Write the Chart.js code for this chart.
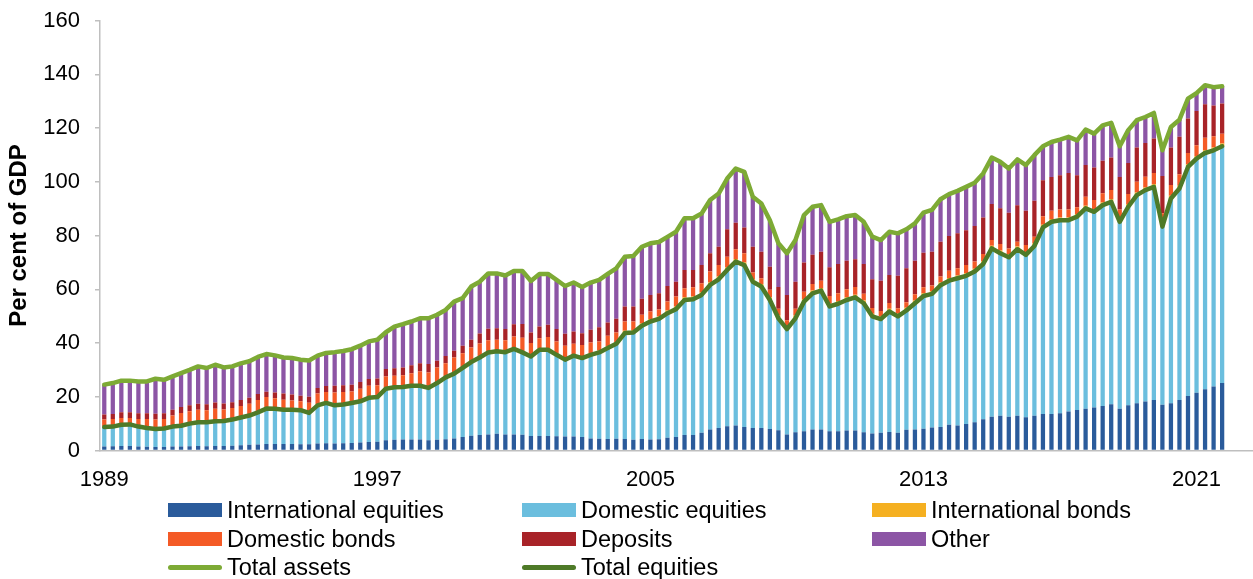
<!DOCTYPE html>
<html><head><meta charset="utf-8">
<script src="https://cdn.jsdelivr.net/npm/chart.js@4.4.1/dist/chart.umd.min.js"></script>
<style>
html,body{margin:0;padding:0;background:#fff;}
#wrap{position:relative;width:1253px;height:579px;overflow:hidden;background:#fff;}
#c{position:absolute;left:0;top:0;}
#legend{position:absolute;left:0;top:0;width:1253px;height:579px;pointer-events:none;font-family:"Liberation Sans",Arial,sans-serif;font-size:23.5px;color:#000;}
.item{position:absolute;display:flex;align-items:center;white-space:nowrap;height:28px;}
.sw{width:54px;height:14px;margin-right:5px;}
.ln{width:54px;height:5px;border-radius:3px;margin-right:5px;}
</style></head>
<body><div id="wrap"><canvas id="c" width="1253" height="579"></canvas><div id="legend"></div></div>
<script>
// Categories: quarters from 1989 Q1, with three empty quarters of axis after the last bar
const firstYear = 1989;
const quarterCount = 135;
const quarters = [];
for (let k = 0; k < quarterCount; k++) quarters.push((firstYear + Math.floor(k / 4)) + ' Q' + (k % 4 + 1));
const tickLabels = ['1989', '1997', '2005', '2013', '2021'];

// Series (per cent of GDP), 1989 Q1 - 2021 Q4
const intlEquities = [1.5,1.6,1.7,1.7,1.5,1.4,1.3,1.3,1.5,1.5,1.6,1.7,1.6,1.7,1.7,1.8,2.0,
2.1,2.2,2.4,2.4,2.4,2.4,2.3,2.3,2.6,2.7,2.6,2.7,2.8,3.0,3.2,3.3,
3.8,4.0,4.1,4.1,4.1,3.8,4.0,4.2,4.5,5.0,5.5,5.8,6.0,6.2,6.0,6.0,
5.9,5.4,5.4,5.4,5.3,5.2,5.2,5.0,4.5,4.4,4.3,4.4,4.3,4.0,4.3,4.1,4.2,
4.7,5.0,5.8,5.8,6.6,7.8,8.4,9.0,9.3,8.7,8.4,8.4,8.0,7.5,6.0,6.8,7.2,
7.8,7.8,7.2,7.2,7.4,7.4,6.8,6.3,6.6,6.9,6.6,7.7,7.8,8.1,8.6,8.7,
9.6,9.3,9.9,10.5,11.6,12.6,12.9,12.6,12.9,12.4,12.9,13.6,13.6,13.9,14.5,15.1,
15.5,16.0,16.6,17.2,15.5,16.8,17.6,18.2,18.8,17.0,17.6,18.8,20.3,21.5,22.8,23.8,25.1];

const domEquities = [7.2,7.3,7.9,8.0,7.4,7.0,6.7,6.9,7.4,7.7,8.4,8.8,8.9,9.2,9.3,9.7,10.3,
10.9,12.0,13.2,13.1,12.8,12.8,12.7,11.7,14.2,15.0,14.2,14.4,14.9,15.3,16.4,16.6,
19.2,19.5,19.5,20.0,20.0,19.5,21.1,23.0,24.1,25.7,27.4,28.8,30.5,30.7,30.6,31.8,
30.6,29.6,32.1,32.1,30.3,28.6,30.1,29.4,31.1,32.1,33.8,35.3,39.4,39.9,42.1,43.9,44.8,
46.4,47.6,50.2,50.5,51.3,53.8,55.3,58.2,61.0,60.3,54.4,52.6,48.0,41.7,39.2,42.4,48.2,
50.7,51.7,46.4,47.4,48.6,49.6,48.0,43.6,42.3,44.8,43.3,44.4,47.0,49.4,49.7,52.8,
53.6,54.8,55.1,56.1,57.8,62.6,60.5,59.3,62.0,60.4,63.2,69.4,71.5,71.8,71.2,71.9,
74.6,72.8,74.7,75.3,69.6,73.9,77.4,78.7,79.3,66.3,76.2,78.7,85.2,87.1,87.9,87.9,88.1];

const intlBonds = [0.2,0.2,0.2,0.2,0.2,0.2,0.2,0.2,0.2,0.2,0.2,0.2,0.2,0.2,0.2,0.2,0.2,
0.3,0.3,0.3,0.3,0.3,0.3,0.3,0.3,0.3,0.3,0.3,0.3,0.3,0.3,0.3,0.3,
0.4,0.4,0.4,0.4,0.4,0.4,0.4,0.4,0.4,0.4,0.4,0.4,0.4,0.4,0.4,0.4,
0.5,0.5,0.5,0.5,0.5,0.5,0.5,0.5,0.7,0.7,0.7,0.7,0.9,0.9,0.9,0.9,0.9,
1.0,1.0,1.0,1.0,1.0,1.0,1.0,1.0,1.0,1.0,1.0,1.0,1.0,1.0,1.0,1.0,1.0,
1.0,1.0,1.0,1.0,1.0,1.0,1.0,1.0,1.0,1.0,1.0,1.0,1.0,1.0,1.0,1.0,
1.0,1.0,1.0,1.0,1.0,1.0,1.0,1.0,1.0,1.0,1.0,1.0,1.0,1.0,1.0,1.0,
1.0,1.0,1.0,1.0,1.0,1.0,1.0,1.0,1.0,1.0,1.0,1.0,1.0,1.0,1.0,1.0,1.0];

const domBonds = [2.6,2.6,2.3,2.2,2.6,3.1,3.3,3.3,3.9,4.6,4.4,4.5,4.3,4.4,4.1,4.1,4.1,
4.1,4.3,4.0,3.6,3.4,3.1,3.0,3.5,4.1,3.8,4.5,4.4,4.0,4.4,4.2,4.1,
4.1,3.9,4.0,4.2,4.9,5.3,5.4,4.9,5.6,5.1,5.0,4.8,4.1,3.9,4.0,4.2,
5.0,4.5,3.8,4.2,4.5,4.7,3.9,4.4,3.9,3.4,3.9,3.5,3.4,3.2,3.2,2.8,2.6,
3.3,3.7,3.4,3.4,3.3,4.0,4.3,3.9,3.6,3.4,2.4,2.1,2.8,2.5,2.3,2.5,2.7,
2.5,2.7,2.9,2.9,3.0,2.8,2.5,2.1,2.0,2.2,2.0,2.1,2.3,2.2,2.1,2.2,
2.7,2.7,3.0,2.7,2.7,2.1,2.4,2.3,1.8,2.7,2.4,3.2,3.1,3.0,3.0,2.5,
3.3,3.4,3.4,3.4,3.6,3.7,4.0,4.0,4.2,4.0,4.0,4.3,4.2,4.0,4.7,4.2,3.7];

const deposits = [1.9,1.9,2.1,2.1,2.2,2.2,2.2,2.2,2.2,2.2,2.2,2.2,2.2,2.4,2.2,2.2,2.2,
2.2,2.2,2.0,2.2,2.3,2.2,2.1,2.2,2.1,2.2,2.5,2.5,2.5,2.5,2.5,2.5,
2.8,2.8,2.9,3.0,3.1,3.2,2.5,2.7,2.5,2.8,2.9,3.7,4.3,4.3,4.2,4.6,
5.1,3.9,4.3,4.6,4.6,4.4,4.6,4.3,4.7,5.3,4.9,5.1,5.6,5.6,6.0,6.2,6.0,
5.8,5.5,6.8,6.5,6.8,6.8,6.8,10.2,9.8,9.6,9.6,9.9,8.6,8.1,9.4,10.1,10.9,
10.8,10.8,10.7,10.9,10.6,10.4,11.1,10.7,11.3,10.4,12.1,12.6,12.5,12.9,12.6,13.0,
12.9,13.0,13.0,13.2,13.6,13.4,13.3,13.3,13.6,12.7,13.4,13.4,12.6,12.7,13.6,11.9,
11.8,12.1,12.1,12.1,12.1,11.6,12.7,12.5,12.8,13.8,13.9,13.9,12.8,12.7,12.4,11.5,11.2];

const other = [11.1,11.5,11.8,11.8,11.8,11.8,13.0,12.4,12.4,12.6,13.2,13.9,13.5,14.0,13.4,13.3,13.6,
13.6,13.8,14.0,13.8,13.4,13.6,13.4,13.5,12.0,12.3,12.5,12.7,13.2,13.5,14.0,14.4,
13.7,15.5,16.1,16.3,16.7,17.0,17.1,17.1,18.3,17.7,19.8,19.3,20.6,20.4,19.9,19.8,
19.7,19.2,19.6,18.9,18.3,17.8,18.2,17.2,17.6,17.6,18.1,18.8,18.5,18.8,19.3,19.2,19.1,
18.3,18.6,19.2,19.2,19.2,19.8,19.8,18.9,20.2,20.7,18.6,17.9,17.3,16.3,15.5,15.5,17.6,
17.9,17.3,16.9,16.6,16.6,16.4,15.7,15.9,15.1,16.1,15.8,14.5,13.9,14.9,15.5,15.8,
15.6,15.8,16.1,16.1,16.4,17.3,17.3,16.4,17.0,17.0,17.0,12.6,13.0,13.3,13.4,13.0,
13.2,12.6,13.2,12.9,11.4,12.2,10.2,9.7,9.5,9.6,7.7,6.4,7.4,6.7,7.1,6.8,6.4];

const totalAssets = [24.5,25.1,26.0,26.0,25.7,25.7,26.7,26.3,27.6,28.8,30.0,31.3,30.7,31.9,30.9,31.3,32.4,
33.2,34.8,35.9,35.4,34.6,34.4,33.8,33.5,35.3,36.3,36.6,37.0,37.7,39.0,40.6,41.2,
44.0,46.1,47.0,48.0,49.2,49.2,50.5,52.3,55.4,56.7,61.0,62.8,65.9,65.9,65.1,66.8,
66.8,63.1,65.7,65.7,63.5,61.2,62.5,60.8,62.5,63.5,65.7,67.8,72.1,72.4,75.8,77.1,77.6,
79.5,81.4,86.4,86.4,88.2,93.2,95.6,101.2,104.9,103.7,94.4,91.9,85.7,77.1,73.4,78.3,87.6,
90.7,91.3,85.1,86.0,87.2,87.6,85.1,79.6,78.3,81.4,80.8,82.3,84.5,88.5,89.5,93.5,
95.4,96.6,98.1,99.6,103.1,109.0,107.4,104.9,108.3,106.2,109.9,113.2,114.8,115.7,116.7,115.4,
119.4,117.9,121.0,121.9,113.2,119.2,122.9,124.1,125.6,111.7,120.4,123.1,130.9,133.0,135.9,135.2,135.5];

const totalEquities = [8.7,8.9,9.6,9.7,8.9,8.4,8.0,8.2,8.9,9.2,10.0,10.5,10.5,10.9,11.0,11.5,12.3,
13.0,14.2,15.6,15.5,15.2,15.2,15.0,14.0,16.8,17.7,16.8,17.1,17.7,18.3,19.6,19.9,
23.0,23.5,23.6,24.1,24.1,23.3,25.1,27.2,28.6,30.7,32.9,34.6,36.5,36.9,36.6,37.8,
36.5,35.0,37.5,37.5,35.6,33.8,35.3,34.4,35.6,36.5,38.1,39.7,43.7,43.9,46.4,48.0,49.0,
51.1,52.6,56.0,56.3,57.9,61.6,63.7,67.2,70.3,69.0,62.8,61.0,56.0,49.2,45.2,49.2,55.4,
58.5,59.5,53.6,54.6,56.0,57.0,54.8,49.9,48.9,51.7,49.9,52.1,54.8,57.5,58.3,61.5,
63.2,64.1,65.0,66.6,69.4,75.2,73.4,71.9,74.9,72.8,76.1,83.0,85.1,85.7,85.7,87.0,
90.1,88.8,91.3,92.5,85.1,90.7,95.0,96.9,98.1,83.3,93.8,97.5,105.5,108.6,110.7,111.7,113.2];

const FONT = '"Liberation Sans", Arial, sans-serif';

const barSeries = [
  { label: 'International equities', data: intlEquities, color: '#2A5B9B' },
  { label: 'Domestic equities', data: domEquities, color: '#6BBEDE' },
  { label: 'International bonds', data: intlBonds, color: '#F5B021' },
  { label: 'Domestic bonds', data: domBonds, color: '#F45A26' },
  { label: 'Deposits', data: deposits, color: '#A82328' },
  { label: 'Other', data: other, color: '#8C55A5' }
];
const lineSeries = [
  { label: 'Total assets', data: totalAssets, color: '#7DAA35', stack: 'ta' },
  { label: 'Total equities', data: totalEquities, color: '#4E7A28', stack: 'te' }
];

const datasets = [];
barSeries.forEach(s => datasets.push({
  type: 'bar', label: s.label, data: s.data, backgroundColor: s.color,
  borderWidth: 0, barPercentage: 0.5, categoryPercentage: 1.0, stack: 'assets', order: 2
}));
lineSeries.forEach(s => datasets.push({
  type: 'line', label: s.label, data: s.data, borderColor: s.color, backgroundColor: s.color,
  borderWidth: 4.5, pointRadius: 0, tension: 0, fill: false, stack: s.stack, order: 1,
  borderJoinStyle: 'round', borderCapStyle: 'round'
}));

new Chart(document.getElementById('c'), {
  data: { labels: quarters, datasets },
  options: {
    responsive: false,
    animation: false,
    layout: { padding: { left: 5, right: 1, top: 20.5, bottom: 0 } },
    plugins: { legend: { display: false }, tooltip: { enabled: false } },
    scales: {
      x: {
        stacked: true,
        offset: true,
        grid: { display: false, drawTicks: false },
        border: { display: true, color: '#BFBFBF', width: 1.5 },
        ticks: {
          autoSkip: false, maxRotation: 0, minRotation: 0, padding: 16,
          color: '#000', font: { family: FONT, size: 22 },
          callback: function (v) {
            const lab = this.getLabelForValue(v);
            const yr = lab.slice(0, 4);
            return (lab.endsWith('Q1') && tickLabels.includes(yr)) ? yr : '';
          }
        },
        afterFit: s => { s.height = 128.5; s.paddingLeft = 0; s.paddingRight = 0; }
      },
      y: {
        stacked: true,
        min: 0, max: 160,
        ticks: { stepSize: 20, padding: 15, color: '#000', font: { family: FONT, size: 22 } },
        grid: { drawOnChartArea: false, drawTicks: true, tickLength: 5, color: '#BFBFBF', lineWidth: 1.5 },
        border: { display: true, color: '#BFBFBF', width: 1.5 },
        title: { display: true, text: 'Per cent of GDP', color: '#000',
                 font: { family: FONT, size: 24, weight: 'bold' }, padding: { top: 0, bottom: 0 } },
        afterFit: s => { s.width = 95; s.paddingTop = 0; s.paddingBottom = 0; }
      }
    }
  }
});

// HTML legend laid out as in the original (3 columns)
const legendItems = [
  [barSeries[0], 'bar'], [barSeries[1], 'bar'], [barSeries[2], 'bar'],
  [barSeries[3], 'bar'], [barSeries[4], 'bar'], [barSeries[5], 'bar'],
  [lineSeries[0], 'line'], [lineSeries[1], 'line']
];
const colX = [168, 522, 872];
const rowY = [510, 539, 567];
const leg = document.getElementById('legend');
legendItems.forEach(([s, kind], i) => {
  const d = document.createElement('div');
  d.className = 'item';
  d.style.left = colX[i % 3] + 'px';
  d.style.top = (rowY[Math.floor(i / 3)] - 14) + 'px';
  const sw = document.createElement('span');
  sw.className = kind === 'bar' ? 'sw' : 'ln';
  sw.style.background = s.color;
  const t = document.createElement('span');
  t.textContent = s.label;
  d.appendChild(sw); d.appendChild(t);
  leg.appendChild(d);
});
</script>
</body></html>
